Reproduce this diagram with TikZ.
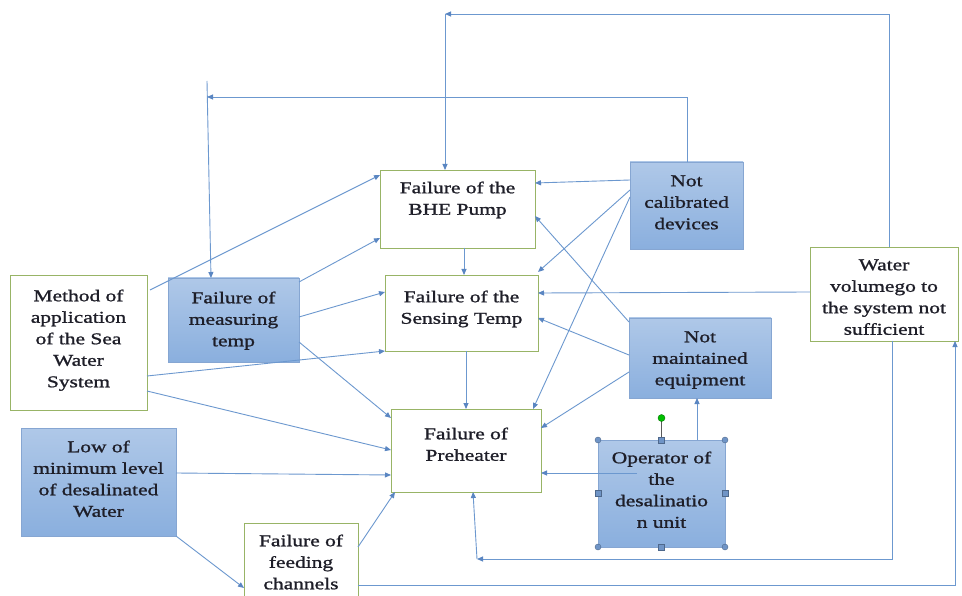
\documentclass[tikz,border=0pt]{standalone}
\usepackage{fontspec}
\setmainfont{Liberation Serif}[FakeStretch=1.3,FakeBold=1.2]
\usetikzlibrary{arrows.meta,calc}
\definecolor{ln}{HTML}{6C98CF}
\definecolor{tip}{HTML}{5A86C2}
\definecolor{gbord}{HTML}{98B466}
\definecolor{bbord}{HTML}{86A6D2}
\definecolor{btop}{HTML}{AFC8E8}
\definecolor{bbot}{HTML}{8AAFDE}
\definecolor{txtc}{HTML}{1E1E28}
\definecolor{hnd}{HTML}{6F94C6}
\begin{document}
\begin{tikzpicture}[x=1pt,y=-1pt,
  wbox/.style={draw=gbord,line width=0.8pt,fill=white,anchor=north west,inner sep=0pt,outer sep=0pt},
  bbox/.style={draw=bbord,line width=0.8pt,top color=btop,bottom color=bbot,anchor=north west,inner sep=0pt,outer sep=0pt},
  txt/.style={align=center,inner sep=0pt,anchor=north,text=txtc,font=\fontsize{16.5}{21.5}\selectfont},
  con/.style={draw=ln,line width=0.9pt,-{Triangle[length=6pt,width=5pt,color=tip]}},
  hcirc/.style={circle,fill=hnd,draw=hnd!70!black,line width=0.4pt,minimum size=6pt,inner sep=0pt},
  hsq/.style={rectangle,fill=hnd,draw=hnd!70!black,line width=0.4pt,minimum size=6pt,inner sep=0pt}]
\useasboundingbox (0,0) rectangle (962,596);
\clip (0,0) rectangle (962,596);
\fill[white] (0,0) rectangle (962,596);

% boxes
\node[wbox,minimum width=155pt,minimum height=78pt] (bhe) at (380,170) {};
\node[wbox,minimum width=153pt,minimum height=76pt] (sens) at (385,275) {};
\node[wbox,minimum width=150pt,minimum height=83pt] (pre) at (391,409) {};
\node[wbox,minimum width=137pt,minimum height=135pt] (method) at (10,275) {};
\node[wbox,minimum width=148pt,minimum height=94pt] (water) at (810,247) {};
\node[wbox,minimum width=114pt,minimum height=80pt] (feed) at (244,523) {};
\node[bbox,minimum width=113pt,minimum height=87pt] (notcal) at (630,162) {};
\node[bbox,minimum width=131pt,minimum height=84pt] (meas) at (168,278) {};
\node[bbox,minimum width=155pt,minimum height=108pt] (low) at (21,428) {};
\node[bbox,minimum width=142pt,minimum height=80pt] (notmaint) at (629,318) {};
\node[bbox,minimum width=127pt,minimum height=107pt] (oper) at (598,440) {};

% texts (north = first line centre - 9)
\node[txt] (bhet) at (457.5,178) {\strut Failure of the\\BHE Pump};
\node[txt] (senst) at (461.5,287) {\strut Failure of the\\Sensing Temp};
\node[txt] (pret) at (466,424) {\strut Failure of\\Preheater};
\node[txt] (methodt) at (78.5,286) {\strut Method of\\application\\of the Sea\\Water\\System};
\node[txt] (watert) at (884,255) {\strut Water\\volumego to\\the system not\\sufficient};
\node[txt] (feedt) at (301,531) {\strut Failure of\\feeding\\channels};
\node[txt] (notcalt) at (686.5,171) {\strut Not\\calibrated\\devices};
\node[txt] (meast) at (233.5,288) {\strut Failure of\\measuring\\temp};
\node[txt] (lowt) at (98.5,437) {\strut Low of\\minimum level\\of desalinated\\Water};
\node[txt] (notmaintt) at (700,327) {\strut Not\\maintained\\equipment};
\node[txt] (opert) at (661.5,448) {\strut Operator of\\the\\desalinatio\\n unit};

% corner coordinates
\coordinate (c1) at (445,14);
\coordinate (c2) at (207,97);
\coordinate (c2t) at (207,81);
\coordinate (c3) at (477,559);

% connectors
\draw[con] ($(water.north west)+(79,0)$) |- (c1);
\draw[con] (c1) -- ($(bhe.north west)+(65,0)$);
\draw[con] ($(notcal.north west)+(57,0)$) |- (c2);
\draw[con] (c2t) -- ($(meas.north west)+(43,0)$);
\draw[con] ($(method.north east)+(3,15)$) -- ($(bhe.north west)+(0,5)$);
\draw[con] ($(meas.north east)+(0,4)$) -- ($(bhe.south west)+(0,-10)$);
\draw[con] ($(meas.north east)+(0,39)$) -- ($(sens.north west)+(0,17)$);
\draw[con] ($(method.north east)+(0,101)$) -- (sens.south west);
\draw[con] ($(meas.south east)+(0,-20)$) -- ($(pre.north west)+(0,9)$);
\draw[con] ($(method.south east)+(0,-19)$) -- ($(pre.north west)+(0,41)$);
\draw[con] ($(low.north east)+(0,45)$) -- ($(pre.north west)+(0,66)$);
\draw[con] (low.south east) -- ($(feed.north west)+(0,65)$);
\draw[con] ($(feed.north east)+(0,24)$) -- ($(pre.south west)+(4,0)$);
\draw[con] ($(feed.north east)+(0,62)$) -| ($(water.south east)+(-3,0)$);
\draw[con] ($(water.south west)+(82,0)$) |- (c3);
\draw[con] (c3) -- ($(pre.south west)+(82,0)$);
\draw[con] ($(bhe.south west)+(84,0)$) -- ($(sens.north west)+(79,0)$);
\draw[con] ($(sens.south west)+(81,0)$) -- ($(pre.north west)+(75,0)$);
\draw[con] ($(notcal.north west)+(0,18)$) -- ($(bhe.north east)+(0,13)$);
\draw[con] ($(notcal.north west)+(0,28)$) -- ($(sens.north east)+(0,-3)$);
\draw[con] ($(notcal.north west)+(0,35)$) -- ($(pre.north east)+(-8,0)$);
\draw[con] ($(notmaint.north west)+(0,4)$) -- ($(bhe.south east)+(0,-32)$);
\draw[con] ($(notmaint.north west)+(0,37)$) -- ($(sens.north east)+(0,43)$);
\draw[con] ($(notmaint.north west)+(0,54)$) -- ($(pre.north east)+(0,19)$);
\draw[con] ($(water.north west)+(0,45)$) -- ($(sens.north east)+(0,18)$);
\draw[con] ($(oper.north west)+(99,0)$) -- ($(notmaint.south west)+(68,0)$);
\draw[con] ($(oper.north west)+(39,33)$) -- ($(pre.north east)+(0,64)$);

% selection handles of the operator box
\draw[draw=gray!70!black,line width=0.8pt] ($(oper.north)+(0,-19)$) -- (oper.north);
\node[circle,fill=green!75!black,draw=green!45!black,line width=0.4pt,minimum size=7pt,inner sep=0pt] (rot) at ($(oper.north)+(0,-22)$) {};
\node[hcirc] (h1) at (oper.north west) {};
\node[hcirc] (h2) at (oper.north east) {};
\node[hcirc] (h3) at (oper.south west) {};
\node[hcirc] (h4) at (oper.south east) {};
\node[hsq] (h5) at (oper.north) {};
\node[hsq] (h6) at (oper.south) {};
\node[hsq] (h7) at (oper.west) {};
\node[hsq] (h8) at (oper.east) {};
\end{tikzpicture}
\end{document}
